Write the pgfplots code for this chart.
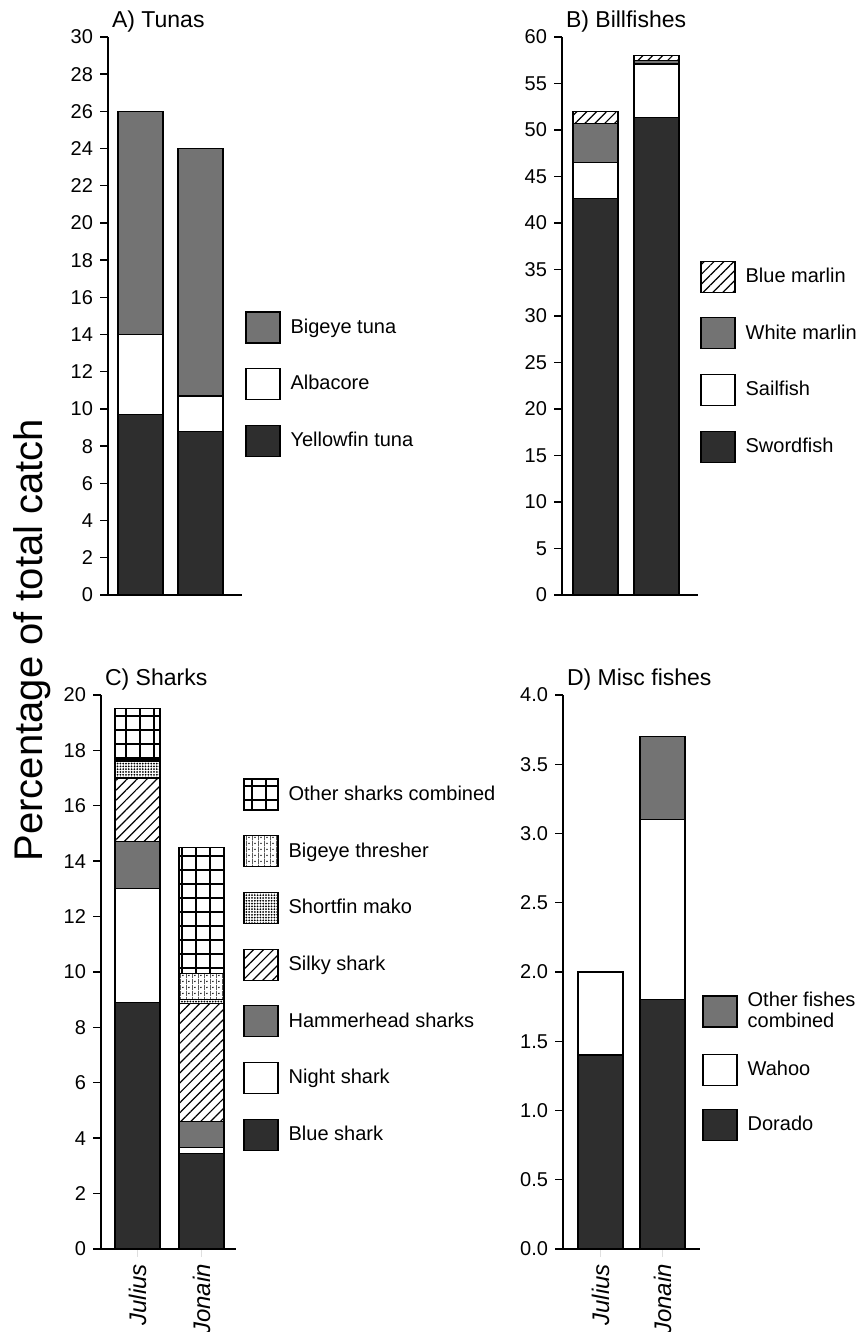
\documentclass[border=0pt]{standalone}
\usepackage{fontspec}
\setmainfont{Liberation Sans}
\usepackage{pgfplots}
\pgfplotsset{compat=1.18}
\usetikzlibrary{patterns,patterns.meta}

\definecolor{darkfill}{gray}{0.18}
\definecolor{midfill}{gray}{0.45}

\tikzdeclarepattern{
  name=thresher,
  type=uncolored,
  bounding box={(0pt,0pt) and (3pt,3pt)},
  tile size={(3pt,3pt)},
  code={
    \draw[line width=0.35pt] (0.2pt,0pt) -- (0.2pt,3pt);
    \fill (1.7pt,1.5pt) circle (0.45pt);
  }
}

\pgfplotsset{
  common/.style={
    scale only axis,
    anchor=south west,
    axis lines*=left,
    axis line style={-, line width=0.7pt},
    tick style={line width=0.7pt, black},
    tick align=outside,
    major tick length=4pt,
    x tick style={draw=none},
    ymin=0, enlargelimits=false,
    ybar stacked, bar width=22.5pt,
    clip=false,
    ticklabel style={font=\fontsize{10}{12}\selectfont},
    /pgf/number format/assume math mode=true,
    title style={at={(0,1)}, anchor=base west, yshift=-1.5pt, xshift=-1.5pt,
                 font=\fontsize{11.5}{13}\selectfont},
    legend image code/.code={\draw[##1, line width=0.6pt] (0pt,-7.75pt) rectangle (17pt,7.75pt);},
    legend style={draw=none, fill=none, inner sep=0pt, anchor=north west,
                  row sep=12.25pt, font=\fontsize{10}{12}\selectfont,
                  nodes={inner xsep=5pt, inner ysep=0pt}},
    legend cell align=left,
    reverse legend,
  },
  dark/.style={fill=darkfill, draw=black, line width=0.6pt},
  white/.style={fill=white, draw=black, line width=0.6pt},
  gray/.style={fill=midfill, draw=black, line width=0.6pt},
  hatch/.style={pattern={Lines[angle=45,distance=3.5pt,line width=0.6pt]}, draw=black, line width=0.6pt},
  bigrid/.style={pattern={Hatch[angle=0,distance=7pt,line width=0.6pt]}, draw=black, line width=0.6pt},
  mako/.style={pattern={Dots[distance=1.4pt,radius=0.5pt]}, draw=black, line width=0.6pt},
  thresh/.style={pattern=thresher, draw=black, line width=0.6pt},
  xlab/.style={xtick={0,1}, xticklabels={Julius, Jonain},
    xticklabel style={rotate=90, anchor=east, font=\itshape\fontsize{12}{14}\selectfont}},
}

\begin{document}
\begin{tikzpicture}
\useasboundingbox (0pt,0pt) rectangle (428pt,666pt);

\node[rotate=90, font=\fontsize{20}{24}\selectfont] at (16pt,346pt) {Percentage of total catch};

% A) Tunas
\begin{axis}[common,
  at={(54pt,368.5pt)}, width=67pt, height=279pt,
  xmin=-0.542, xmax=1.692, ymax=30, ytick={0,2,...,30},
  xtick=\empty,
  title={A) Tunas},
  legend style={at={(axis description cs:1.022,0.509)}},
]
\addplot[dark] coordinates {(0,9.7) (1,8.8)};
\addlegendentry{Yellowfin tuna}
\addplot[white] coordinates {(0,4.3) (1,1.9)};
\addlegendentry{Albacore}
\addplot[gray] coordinates {(0,12.0) (1,13.3)};
\addlegendentry{Bigeye tuna}
\end{axis}

% B) Billfishes
\begin{axis}[common,
  at={(281pt,368.5pt)}, width=68pt, height=279pt,
  xmin=-0.549, xmax=1.680, ymax=60, ytick={0,5,...,60},
  xtick=\empty,
  title={B) Billfishes},
  legend style={at={(axis description cs:1.015,0.600)}},
]
\addplot[dark] coordinates {(0,42.6) (1,51.3)};
\addlegendentry{Swordfish}
\addplot[white] coordinates {(0,3.9) (1,5.8)};
\addlegendentry{Sailfish}
\addplot[gray] coordinates {(0,4.2) (1,0.4)};
\addlegendentry{White marlin}
\addplot[hatch] coordinates {(0,1.3) (1,0.5)};
\addlegendentry{Blue marlin}
\end{axis}

% C) Sharks
\begin{axis}[common, xlab,
  at={(50.5pt,41.5pt)}, width=67.5pt, height=277pt,
  xmin=-0.570, xmax=1.539, ymax=20, ytick={0,2,...,20},
  title={C) Sharks},
  legend style={at={(axis description cs:1.052,0.850)}},
]
\addplot[dark] coordinates {(0,8.9) (1,3.45)};
\addlegendentry{Blue shark}
\addplot[white] coordinates {(0,4.1) (1,0.2)};
\addlegendentry{Night shark}
\addplot[gray] coordinates {(0,1.7) (1,0.95)};
\addlegendentry{Hammerhead sharks}
\addplot[hatch] coordinates {(0,2.3) (1,4.25)};
\addlegendentry{Silky shark}
\addplot[mako] coordinates {(0,0.6) (1,0.15)};
\addlegendentry{Shortfin mako}
\addplot[thresh] coordinates {(0,0.05) (1,0.95)};
\addlegendentry{Bigeye thresher}
\addplot[bigrid] coordinates {(0,1.85) (1,4.55)};
\addlegendentry{Other sharks combined}
\end{axis}

% D) Misc fishes
\begin{axis}[common, xlab,
  at={(281.5pt,41.5pt)}, width=68.5pt, height=277pt,
  xmin=-0.605, xmax=1.605, ymax=4, ytick={0,0.5,...,4},
  yticklabel style={/pgf/number format/.cd, fixed, fixed zerofill, precision=1},
  title={D) Misc fishes},
  legend style={at={(axis description cs:1.015,0.464)}, row sep=11.5pt},
]
\addplot[dark] coordinates {(0,1.4) (1,1.8)};
\addlegendentry{Dorado}
\addplot[white] coordinates {(0,0.6) (1,1.3)};
\addlegendentry{Wahoo}
\addplot[gray] coordinates {(0,0) (1,0.6)};
\addlegendentry{\shortstack[l]{Other fishes\\combined}}
\end{axis}
\end{tikzpicture}
\end{document}
